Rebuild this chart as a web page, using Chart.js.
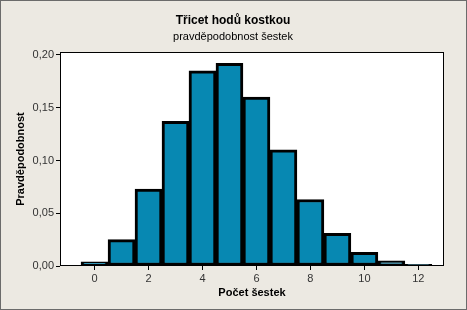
<!DOCTYPE html>
<html><head><meta charset="utf-8">
<script src="https://cdn.jsdelivr.net/npm/chart.js@4"></script>
<style>
html,body{margin:0;padding:0;background:#ECE9E2;}
#wrap{position:relative;width:465px;height:308px;border:1px solid #6b6b6b;}
canvas{display:block;}
</style></head><body>
<div id="wrap"><canvas id="c" width="465" height="308"></canvas></div>
<script>
const counts = [0,1,2,3,4,5,6,7,8,9,10,11,12];
const probs = [0.004,0.025,0.073,0.137,0.185,0.192,0.160,0.110,0.063,0.031,0.013,0.005,0.0015];
const xTicks = [0,2,4,6,8,10,12];
const yTicks = [0,0.05,0.10,0.15,0.20];
const title = "Třicet hodů kostkou";
const subtitle = "pravděpodobnost šestek";
const xTitle = "Počet šestek";
const yTitle = "Pravděpodobnost";
const FONT = "'Liberation Sans', Arial, sans-serif";

const bgPlugin = {
  id:'bg',
  beforeDraw(chart){
    const {ctx, chartArea:a} = chart;
    ctx.save();
    ctx.fillStyle='#ECE9E2';
    ctx.fillRect(0,0,chart.width,chart.height);
    ctx.fillStyle='#ffffff';
    ctx.fillRect(a.left,a.top,a.right-a.left,a.bottom-a.top);
    ctx.restore();
  },
  afterDraw(chart){
    const {ctx, chartArea:a} = chart;
    ctx.save();
    ctx.strokeStyle='#000';
    ctx.lineWidth=1;
    ctx.strokeRect(a.left+0.5,a.top+0.5,a.right-a.left-1,a.bottom-a.top-1);
    ctx.fillStyle='#000';
    ctx.textAlign='center';
    ctx.textBaseline='middle';
    ctx.font="bold 12px "+FONT;
    ctx.fillText(title,232,20);
    ctx.font="11px "+FONT;
    ctx.fillText(subtitle,232,36);
    ctx.restore();
  }
};

new Chart(document.getElementById('c'),{
  type:'bar',
  data:{datasets:[{
    data: counts.map((x,i)=>({x:x,y:probs[i]})),
    backgroundColor:'#0788B2',
    borderColor:'#000',
    borderWidth:3,
    borderSkipped:false,
    barPercentage:1,
    categoryPercentage:1
  }]},
  options:{
    responsive:false,
    animation:false,
    layout:{padding:{left:0,right:22,top:51,bottom:9}},
    plugins:{legend:{display:false},tooltip:{enabled:false}},
    scales:{
      x:{
        type:'linear',
        offset:false,
        min:-1.28,max:12.95,
        afterBuildTicks(s){ s.ticks = xTicks.map(v=>({value:v})); },
        afterFit(s){ s.height = 34; },
        ticks:{font:{family:FONT,size:11},color:'#333',padding:2,maxRotation:0,
          callback:(v)=>String(v)},
        grid:{drawOnChartArea:false,tickLength:4,color:'#000',offset:false},
        border:{display:false},
        title:{display:true,text:xTitle,font:{family:FONT,size:11,weight:'bold'},color:'#000',padding:{top:0,bottom:0}}
      },
      y:{
        min:0,max:0.2028,
        afterBuildTicks(s){ s.ticks = yTicks.map(v=>({value:v})); },
        afterFit(s){ s.width = 59; },
        ticks:{font:{family:FONT,size:11},color:'#333',padding:2,
          callback:(v)=>v.toFixed(2).replace('.',',')},
        grid:{drawOnChartArea:false,tickLength:4,color:'#000'},
        border:{display:false},
        title:{display:true,text:yTitle,font:{family:FONT,size:11,weight:'bold'},color:'#000',padding:{top:13,bottom:0}}
      }
    }
  },
  plugins:[bgPlugin]
});
</script>
</body></html>
